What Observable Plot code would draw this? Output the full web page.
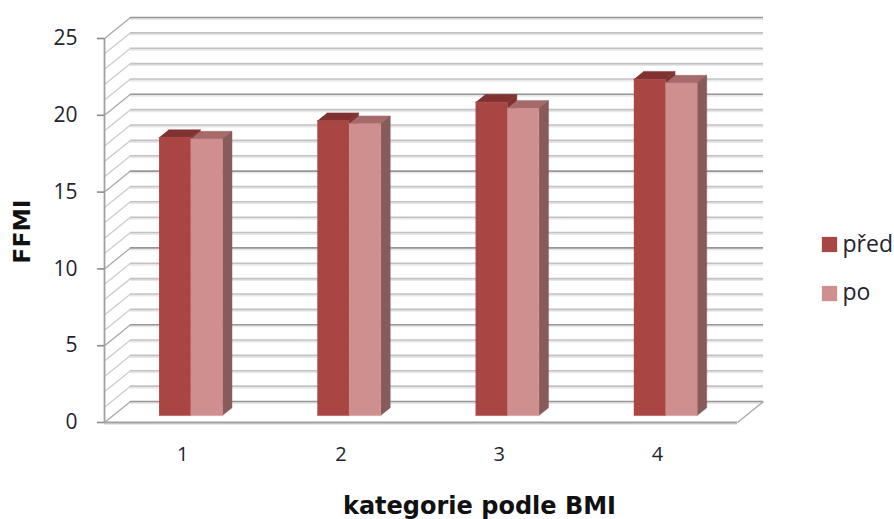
<!DOCTYPE html>
<html>
<head>
<meta charset="utf-8">
<style>
  html, body { margin: 0; padding: 0; background: #fff; }
  svg { display: block; }
</style>
<script src="https://cdn.jsdelivr.net/npm/d3@7"></script>
<script src="https://cdn.jsdelivr.net/npm/@observablehq/plot@0.6"></script>
</head>
<body>
<script>
// FFMI by BMI category, before and after
const categories = [1, 2, 3, 4];
const pred = [18.1, 19.2, 20.4, 21.9];
const po = [18.0, 19.0, 20.0, 21.65];
const seriesNames = ["před", "po"];
const yTicks = [0, 5, 10, 15, 20, 25];
const gridValues = d3.range(0, 26);

// Oblique projection: depth is expressed in scale units, so every face goes through x and y
const depthX = 0.1643;
const depthY = 1.367;
const barHalfWidth = 0.2;
const barShift = -0.0095;
const barDepthStart = 0.33;
const barDepthEnd = 0.7;

const project = (c, v, d) => ({x: c + barShift + d * depthX, y: v + d * depthY});
const poly = (...pts) => pts.map(([c, v, d]) => project(c, v, d));

const faceMark = (pts, fill) =>
  Plot.line(pts, {x: "x", y: "y", fill, stroke: fill, strokeWidth: 0.5, curve: "linear"});

// Three visible faces of one box: top, right side, front
function boxMarks(left, right, value, colors) {
  const [a, b] = [barDepthStart, barDepthEnd];
  return [
    faceMark(poly([left, value, a], [right, value, a], [right, value, b], [left, value, b]), colors.top),
    faceMark(poly([right, 0, a], [right, 0, b], [right, value, b], [right, value, a]), colors.side),
    faceMark(poly([left, 0, a], [right, 0, a], [right, value, a], [left, value, a]), colors.front)
  ];
}

const predColors = {front: "#a94543", top: "#803231", side: "#803231"};
const poColors = {front: "#cf8f8e", top: "#a56a69", side: "#875b5a"};

const isMajor = (v) => v % 5 === 0;
const wallStroke = (v) => (isMajor(v) ? "#969696" : "#c2c2c2");
const titleFont = "'DejaVu Sans', sans-serif";

const chart = Plot.plot({
  width: 894,
  height: 519,
  marginLeft: 104,
  marginRight: 131,
  marginTop: 17,
  marginBottom: 97,
  style: {background: "#fff", fontFamily: "'Open Sans', sans-serif", color: "#1f2430"},
  x: {domain: [0.5, 4.5 + depthX]},
  y: {domain: [0, 25 + depthY]},
  marks: [
    // Back wall: soft shadow under each gridline, then the line itself
    Plot.ruleY(gridValues, {
      y: (v) => v + depthY, x1: 0.5 + depthX, x2: 4.5 + depthX,
      stroke: "#e8e8e8", strokeWidth: 2, dy: 1.5
    }),
    Plot.ruleY(gridValues, {
      y: (v) => v + depthY, x1: 0.5 + depthX, x2: 4.5 + depthX,
      stroke: wallStroke, strokeWidth: 1.6
    }),
    // Left wall slants
    Plot.link(gridValues, {
      x1: () => 0.5, y1: (v) => v,
      x2: () => 0.5 + depthX, y2: (v) => v + depthY,
      stroke: (v) => (isMajor(v) ? "#a8a8a8" : "#cccccc"), strokeWidth: 1.3
    }),
    // Floor: right edge and front edge
    Plot.link([0], {
      x1: () => 4.5, y1: () => 0,
      x2: () => 4.5 + depthX, y2: () => depthY,
      stroke: "#a8a8a8", strokeWidth: 1.3
    }),
    Plot.ruleY([0], {x1: 0.5, x2: 4.5, stroke: "#e8e8e8", strokeWidth: 2, dy: 1.5}),
    Plot.ruleY([0], {x1: 0.5, x2: 4.5, stroke: "#a0a0a0", strokeWidth: 1.8}),
    Plot.ruleX([0.5], {y1: 0, y2: 25, stroke: "#a0a0a0", strokeWidth: 1.8}),

    Plot.axisY({
      ticks: yTicks, tickSize: 7, tickPadding: 20, fontSize: 21,
      stroke: "#8c8c8c", strokeWidth: 1.6, label: null
    }),
    Plot.axisX({
      ticks: categories, tickSize: 0, tickPadding: 24, fontSize: 20, dx: -1,
      tickFormat: (d) => String(d), label: null
    }),

    // Paired bars for each category
    ...categories.flatMap((c, i) => [
      ...boxMarks(c - barHalfWidth, c, pred[i], predColors),
      ...boxMarks(c, c + barHalfWidth, po[i], poColors)
    ]),

    // Axis titles
    Plot.text(["FFMI"], {
      frameAnchor: "top-left", dx: -82, dy: 214, rotate: -90, fontFamily: titleFont,
      fontSize: 23.5, fontWeight: "bold", fill: "#111", textAnchor: "middle", lineAnchor: "middle"
    }),
    Plot.text(["kategorie podle BMI"], {
      frameAnchor: "bottom-left", dx: 375, dy: 84, fontFamily: titleFont,
      fontSize: 24, fontWeight: "bold", fill: "#111", textAnchor: "middle", lineAnchor: "middle"
    }),

    // Legend
    Plot.dot([seriesNames[0]], {
      frameAnchor: "top-left", dx: 725, dy: 227, symbol: "square", r: 8.6, fill: predColors.front
    }),
    Plot.dot([seriesNames[1]], {
      frameAnchor: "top-left", dx: 725, dy: 276, symbol: "square", r: 8.6, fill: poColors.front
    }),
    Plot.text([seriesNames[0]], {
      frameAnchor: "top-left", dx: 738, dy: 227, fontSize: 23, textAnchor: "start", lineAnchor: "middle"
    }),
    Plot.text([seriesNames[1]], {
      frameAnchor: "top-left", dx: 738, dy: 275, fontSize: 23, textAnchor: "start", lineAnchor: "middle"
    })
  ]
});

document.body.appendChild(chart);
</script>
</body>
</html>
